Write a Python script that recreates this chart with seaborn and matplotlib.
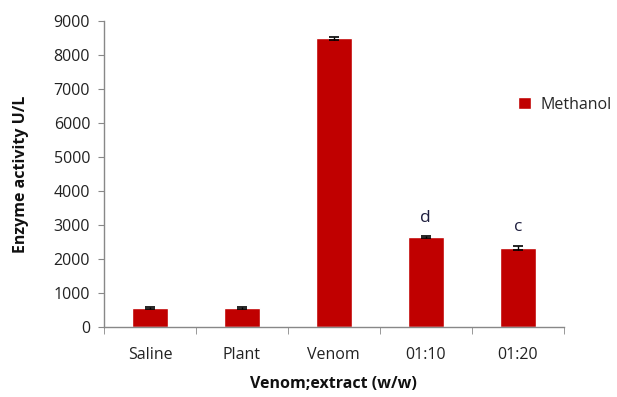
import matplotlib
matplotlib.use("Agg")
import matplotlib.pyplot as plt
import seaborn as sns
import pandas as pd
import numpy as np
from matplotlib.ticker import FixedLocator

categories = ["Saline", "Plant", "Venom", "01:10", "01:20"]
values = [570, 570, 8500, 2650, 2330]
errors = [30, 30, 45, 25, 70]
letters = ["", "", "", "d", "c"]
series_name = "Methanol"

sns.set_style("white")
plt.rcParams["font.family"] = ["Open Sans", "DejaVu Sans"]

df = pd.DataFrame({"group": categories, "activity": values, "series": series_name})

fig = plt.figure(figsize=(6.17, 3.97), dpi=100)
ax = fig.add_axes([0.1686, 0.176, 0.745, 0.771])

sns.barplot(data=df, x="group", y="activity", hue="series", palette=["#C00000"],
            width=0.39, ax=ax, errorbar=None, saturation=1)
ax.errorbar(categories, values, yerr=errors, fmt="none", ecolor="black",
            elinewidth=1.0, capsize=3.5, capthick=1.2)

for i, (v, e, t) in enumerate(zip(values, errors, letters)):
    if t:
        ax.text(i, v + e + 300, t, ha="center", va="bottom", fontsize=12.5, color="#1F1F3F")

ax.set_ylim(0, 9000)
ax.set_xlim(-0.5, len(categories) - 0.5)
ax.set_yticks(np.arange(0, 9001, 1000))
ax.tick_params(axis="y", labelsize=11.5, colors="#222222", length=4, color="#888888", direction="out", left=True, pad=6)
ax.tick_params(axis="x", labelsize=11.5, colors="#222222", length=0, pad=14)
ax.xaxis.set_minor_locator(FixedLocator(np.arange(-0.5, len(categories), 1.0)))
ax.tick_params(axis="x", which="minor", length=5, color="#888888", direction="out", bottom=True)

for s in ["top", "right"]:
    ax.spines[s].set_visible(False)
for s in ["left", "bottom"]:
    ax.spines[s].set_color("#888888")
    ax.spines[s].set_linewidth(1)

ax.set_ylabel("Enzyme activity U/L", fontsize=11.5, fontweight="bold", color="#111111", labelpad=18)
ax.set_xlabel("Venom;extract (w/w)", fontsize=11.5, fontweight="bold", color="#111111", labelpad=10)

leg = ax.legend(loc="upper left", bbox_to_anchor=(0.87, 0.80), frameon=False, fontsize=11.5,
                handlelength=0.8, handleheight=0.8, handletextpad=0.6)

fig.savefig("out.png", dpi=100)
